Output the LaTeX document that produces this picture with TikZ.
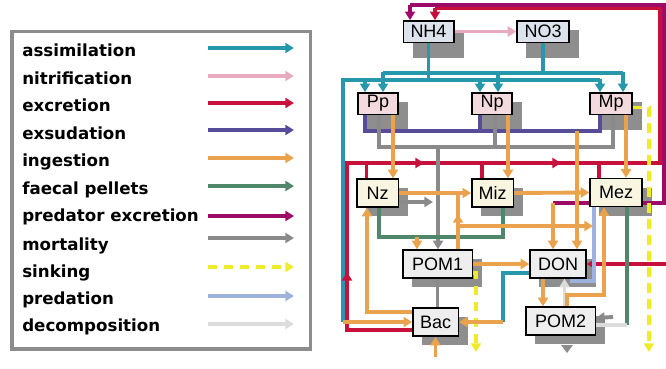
\documentclass[tikz,border=0pt]{standalone}
\usepackage{fontspec}
\setsansfont{Liberation Sans}
\newfontfamily\legfont{DejaVu Sans}
\usepackage{tikz}
\usetikzlibrary{arrows.meta}

\definecolor{assimc}{HTML}{2698AC}
\definecolor{nitric}{HTML}{E8AABF}
\definecolor{excrc}{HTML}{C8103C}
\definecolor{exsudc}{HTML}{574C98}
\definecolor{ingestc}{HTML}{EBA24C}
\definecolor{faecalc}{HTML}{4F876B}
\definecolor{predexc}{HTML}{9C0B68}
\definecolor{mortc}{HTML}{8A8A8A}
\definecolor{sinkc}{HTML}{EDEB2A}
\definecolor{predc}{HTML}{9DB3DD}
\definecolor{decompc}{HTML}{DCDCDC}
\definecolor{shadowc}{HTML}{8E8E8E}
\definecolor{nutc}{HTML}{DCE3EC}
\definecolor{phyc}{HTML}{F3DADE}
\definecolor{zooc}{HTML}{F8F5E1}
\definecolor{detc}{HTML}{EEEEEE}
\definecolor{legc}{HTML}{8C8C8C}

\pgfdeclarelayer{shade}
\pgfdeclarelayer{wires}
\pgfsetlayers{shade,wires,main}

\tikzset{
  wire/.style={line width=2.9pt},
  assim/.style={wire, draw=assimc},
  nitri/.style={wire, draw=nitric},
  excr/.style={wire, draw=excrc},
  exsud/.style={wire, draw=exsudc},
  ingest/.style={wire, draw=ingestc},
  faecal/.style={wire, draw=faecalc},
  predex/.style={wire, draw=predexc},
  mort/.style={wire, draw=mortc},
  sink/.style={wire, draw=sinkc, dash pattern=on 7pt off 5pt},
  pred/.style={wire, draw=predc},
  decomp/.style={wire, draw=decompc},
  legtext/.style={anchor=west, inner sep=0pt, text height=9pt, text depth=3pt,
    font=\legfont\bfseries\fontsize{12.5}{14}\selectfont},
  box/.style={draw=black, line width=1pt, inner sep=0pt, minimum height=21pt,
    font=\sffamily\fontsize{13.5}{15}\selectfont},
  nbox/.style={box, fill=nutc, minimum height=16pt},
  pbox/.style={box, fill=phyc, minimum height=16pt},
  zbox/.style={box, fill=zooc},
  dbox/.style={box, fill=detc}
}

\begin{document}
\begin{tikzpicture}[x=0.75pt, y=-0.75pt, >={Triangle[length=6.5pt,width=7.5pt]}]
\useasboundingbox (0,0) rectangle (666,368);

% legend
\draw[line width=2.6pt, legc] (12,31.5) rectangle (310.5,349);
\foreach \txt/\sty/\ya/\yt [count=\i] in {assimilation/assim/48/52,
    nitrification/nitri/76/80, excretion/excr/103/107, exsudation/exsud/130/135,
    ingestion/ingest/158/162, faecal pellets/faecal/186/190,
    predator excretion/predex/216/217, mortality/mort/238/246,
    sinking/sink/267/273, predation/pred/296/300, decomposition/decomp/324/327}{
  \node[legtext] (leg\i) at (22,\yt) {\txt};
  \coordinate (la\i) at (208,\ya);
  \coordinate (lb\i) at (294,\ya);
  \draw[\sty,->] (la\i) -- (lb\i);
}

% compartments
\node[nbox, minimum width=38pt] (nh) at (428.5,31.5) {NH4};
\node[nbox, minimum width=39pt] (no) at (543,31.5) {NO3};
\node[pbox, minimum width=30pt] (pp) at (378,103.5) {Pp};
\node[pbox, minimum width=30pt] (np) at (492,103.5) {Np};
\node[pbox, minimum width=31.5pt] (mp) at (611,103.5) {Mp};
\node[zbox, minimum width=31pt] (nz) at (377.5,193) {Nz};
\node[zbox, minimum width=31pt] (miz) at (492.5,193) {Miz};
\node[zbox, minimum width=39pt] (mez) at (616,192.5) {Mez};
\node[dbox, minimum width=52pt] (pom1) at (437.5,264) {POM1};
\node[dbox, minimum width=42pt] (don) at (558,264) {DON};
\node[dbox, minimum width=34pt] (bac) at (435.5,322) {Bac};
\node[dbox, minimum width=52pt] (pom2) at (560.5,321) {POM2};

% loose ends
\coordinate (lc) at (343,322);
\coordinate (rc) at (503,322);
\coordinate (redin) at (666,264);
\coordinate (pe) at (553,203);
\coordinate (bin) at (435.5,357);
\coordinate (mortin) at (613,317);
\coordinate (sk1) at (649,352);
\coordinate (sk2) at (476,352);

\begin{pgfonlayer}{shade}
\foreach \b in {nh,no,pp,np,mp,nz,miz,mez,pom1,don,bac,pom2}
  \fill[shadowc] ([shift={(10,10)}]\b.north west) rectangle ([shift={(9,38)}]\b.north east);
\fill[shadowc] (561,345) -- (573,345) -- (567,353) -- cycle;
\end{pgfonlayer}

\begin{pgfonlayer}{wires}
% assimilation
\draw[assim] (nh.south) -- (428.5,80);
\draw[assim] (lc) -- (343,80) -- (600,80);
\draw[assim] (no.south) -- (543,73);
\draw[assim] (383,73) -- (623,73);
\foreach \b/\d in {pp/-13,np/-12,mp/-11}
  \draw[assim,->] ([shift={(\d,-13)}]\b.north) -- ([shift={(\d,0)}]\b.north);
\foreach \b/\d in {pp/5,np/6,mp/12}
  \draw[assim,->] ([shift={(\d,-20)}]\b.north) -- ([shift={(\d,0)}]\b.north);
\draw[assim] ([shift={(0,9)}]don.west) -| (rc);

% nitrification
\draw[nitri,->] (nh.east) -- (no.west);

% excretion
\draw[excr] ([shift={(0,8)}]bac.west) -| (347,163) -- (660,163) |- (435,8);
\draw[excr,->] (435,8) -- ([shift={(6.5,0)}]nh.north);
\draw[excr,->] (347,290) -- (347,272);
\draw[excr,->] (400,163) -- (424,163);
\draw[excr,->] (540,163) -- (561,163);
\foreach \b/\d in {nz/-11,miz/-10.5,mez/-17}
  \draw[excr] ([shift={(\d,0)}]\b.north) -- ([shift={(\d,-16)}]\b.north);
\draw[excr,->] (redin) -- (don.east);

% predator excretion
\draw[predex] (pe) -- (664,203) |- (410,5);
\draw[predex,->] (410,5) -- ([shift={(-18.5,0)}]nh.north);

% exsudation
\draw[exsud] ([shift={(-13,0)}]pp.south) |- ([shift={(-11,16)}]mp.south) -- ([shift={(-11,0)}]mp.south);
\draw[exsud] ([shift={(-12,0)}]np.south) -- ([shift={(-12,16)}]np.south);

% mortality
\draw[mort] ([shift={(1,0)}]pp.south) |- ([shift={(2,32)}]mp.south) -- ([shift={(2,0)}]mp.south);
\draw[mort] ([shift={(3,0)}]np.south) -- ([shift={(3,32)}]np.south);
\draw[mort,->] (438,146) -- ([shift={(0.5,0)}]pom1.north);
\draw[mort,->] ([shift={(0,9)}]nz.east) -- (433,202);
\draw[mort] (pom1.south) -- (pom1.south |- bac.north);
\draw[mort,->] (mortin) -- ([shift={(0,-3)}]pom2.east);

% faecal pellets
\draw[faecal] ([shift={(1.5,0)}]nz.south) |- (503,237) -- ([shift={(10.5,0)}]miz.south);
\draw[faecal] ([shift={(11,0)}]mez.south) -- (627,325);

% decomposition
\draw[decomp] (627,325) -- ([shift={(0,4)}]pom2.east);
\draw[decomp,->] ([shift={(4,0)}]pom2.north) -- ([shift={(6.5,0)}]don.south);

% predation
\draw[pred] ([shift={(-22,0)}]mez.south) |- (570,281);

% sinking
\draw[sink,->] ([shift={(0,4)}]mp.east) -| (sk1);
\draw[sink,->] ([shift={(0,9)}]pom1.east) -| (sk2);

% ingestion
\draw[ingest,->] ([shift={(15,0)}]pp.south) -- ([shift={(15.5,0)}]nz.north);
\draw[ingest,->] ([shift={(16,0)}]np.south) -- ([shift={(15.5,0)}]miz.north);
\draw[ingest,->] ([shift={(15,0)}]mp.south) -- ([shift={(10,0)}]mez.north);
\draw[ingest,->] (nz.east) -- (miz.west);
\draw[ingest,->] (miz.east) -- (mez.west);
\draw[ingest] ([shift={(20.5,0)}]pom1.north) -- (458,193);
\draw[ingest,->] (458,240) -- (458,214);
\draw[ingest,->] (458,226) -- (593,226);
\draw[ingest,->] ([shift={(6.5,0)}]pom2.north) |- (604,295) -- ([shift={(-12,0)}]mez.south);
\draw[ingest,->] ([shift={(0,-10)}]bac.west) -| ([shift={(-10.5,0)}]nz.south);
\draw[ingest,->] (lc) -- (bac.west);
\draw[ingest,->] (rc) -- (bac.east);
\draw[ingest,->] (bin) -- (bac.south);
\draw[ingest,->] (417,237) -- ([shift={(-20.5,0)}]pom1.north);
\draw[ingest,->] (pom1.east) -- (don.west);
\draw[ingest,->] ([shift={(-15,0)}]don.south) -- ([shift={(-17.5,0)}]pom2.north);
\draw[ingest,->] (pe) -- ([shift={(-5,0)}]don.north);
\draw[ingest,->] (577,131) -- ([shift={(19,0)}]don.north);
\end{pgfonlayer}
\end{tikzpicture}
\end{document}
